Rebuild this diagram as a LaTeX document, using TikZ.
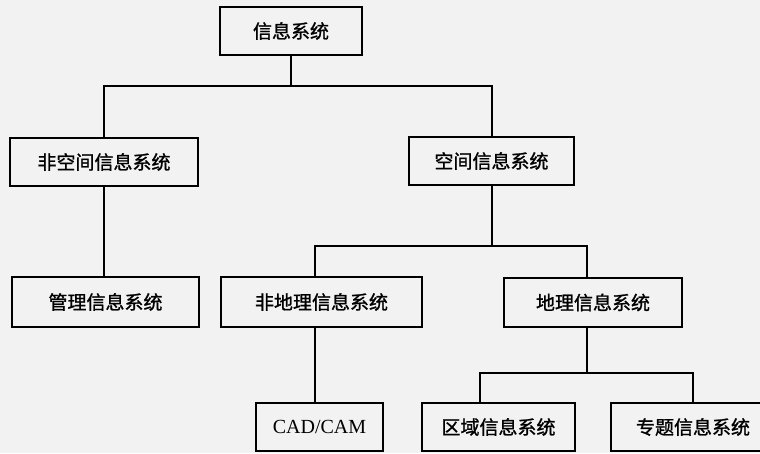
\documentclass[tikz,border=0pt]{standalone}
\usepackage{fontspec}
\setmainfont{Liberation Serif}
\newfontfamily\cjk[FakeBold=1.2]{Noto Sans CJK SC}
\definecolor{bg}{HTML}{F2F2F2}
\begin{document}
\begin{tikzpicture}[x=1pt,y=-1pt,
  box/.style={draw,line width=2pt,fill=bg,inner sep=0pt,font=\cjk\fontsize{19}{19}\selectfont},
  conn/.style={line width=2pt}]
\fill[bg] (0,0) rectangle (760,453);
\useasboundingbox (0,0) rectangle (760,453);
\clip (0,0) rectangle (760,453);
\node[box,minimum width=142pt,minimum height=48pt] (top) at (291,31) {信息系统};
\node[box,minimum width=188pt,minimum height=48pt] (ns) at (104,162) {非空间信息系统};
\node[box,minimum width=165pt,minimum height=48pt] (sp) at (491.5,161) {空间信息系统};
\node[box,minimum width=187pt,minimum height=50pt] (mis) at (105.5,302) {管理信息系统};
\node[box,minimum width=201pt,minimum height=50pt] (ng) at (321.5,302) {非地理信息系统};
\node[box,minimum width=178pt,minimum height=49pt] (gis) at (593,302.5) {地理信息系统};
\node[box,minimum width=127pt,minimum height=48pt,font=\fontsize{20}{20}\selectfont] (cad) at (319.5,427) {CAD/CAM};
\node[box,minimum width=153pt,minimum height=48pt] (reg) at (498.5,427) {区域信息系统};
\node[box,minimum width=164pt,minimum height=48pt] (th) at (693,427) {专题信息系统};
\coordinate (j1) at (291,86);
\coordinate (j2) at (491.5,246);
\coordinate (j3) at (587,373);
\draw[conn] (top.south) -- (j1);
\draw[conn] (ns.north) |- (j1) -| (sp.north);
\draw[conn] (ns.south) -- (ns.south |- mis.north);
\draw[conn] (sp.south) -- (j2);
\draw[conn] (315,0 |- ng.north) |- (j2) -| (587,0 |- gis.north);
\draw[conn] (315,0 |- ng.south) -- (315,0 |- cad.north);
\draw[conn] (587,0 |- gis.south) -- (j3);
\draw[conn] (480,0 |- reg.north) |- (j3) -| (th.north);
\end{tikzpicture}
\end{document}
